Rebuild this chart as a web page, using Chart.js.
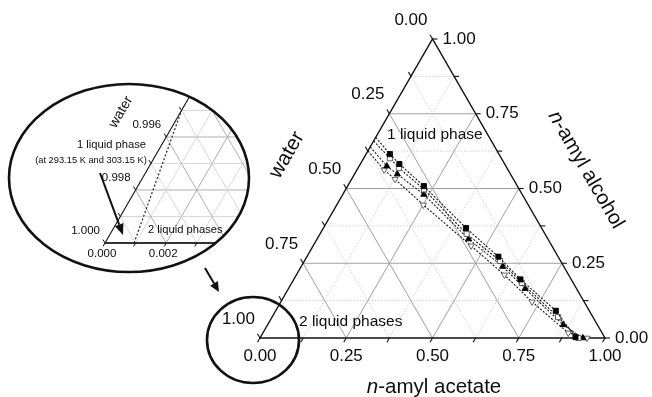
<!DOCTYPE html>
<html><head><meta charset="utf-8">
<script src="https://cdn.jsdelivr.net/npm/chart.js@4"></script>
<style>
html,body{margin:0;padding:0;background:#fff;}
#wrap{position:relative;width:652px;height:397px;overflow:hidden;}
canvas{position:absolute;left:0;top:0;}
</style></head><body>
<div id="wrap"><canvas id="main" width="652" height="397"></canvas><canvas id="inset" width="652" height="397"></canvas></div>
<script>
const FONT = '"Liberation Sans", Arial, Helvetica, sans-serif';
const SQ3 = Math.sqrt(3);

// ---- main ternary axes ----
const axisTickValues = [0, 0.25, 0.5, 0.75, 1];
const axisTickLabels = ['0.00', '0.25', '0.50', '0.75', '1.00'];
const gridValues = [0.125, 0.25, 0.375, 0.5, 0.625, 0.75, 0.875];
const majorGridValues = [0.25, 0.5, 0.75];
const tickMarkValues = [0, 0.125, 0.25, 0.375, 0.5, 0.625, 0.75, 0.875, 1];

// ---- series: fraction of n-amyl acetate and n-amyl alcohol (water = 1 - both) ----
const sqFilledAcetate  = [0.000, 0.069, 0.113, 0.221, 0.413, 0.555, 0.657, 0.812, 0.913];
const sqFilledAlcohol  = [0.671, 0.615, 0.582, 0.508, 0.368, 0.272, 0.196, 0.091, 0.003];
const sqOpenAcetate    = [0.000, 0.076, 0.118, 0.227, 0.425, 0.567, 0.667, 0.829, 0.923];
const sqOpenAlcohol    = [0.659, 0.601, 0.569, 0.497, 0.348, 0.258, 0.184, 0.070, 0.000];
const triFilledAcetate = [0.000, 0.080, 0.124, 0.235, 0.439, 0.584, 0.686, 0.857, 0.936];
const triFilledAlcohol = [0.639, 0.575, 0.548, 0.480, 0.331, 0.239, 0.165, 0.044, 0.000];
const triOpenAcetate   = [0.000, 0.079, 0.126, 0.251, 0.458, 0.603, 0.728, 0.885, 0.948];
const triOpenAlcohol   = [0.626, 0.562, 0.531, 0.445, 0.308, 0.211, 0.121, 0.017, 0.000];

// ---- inset (zoom near the water corner) ----
const insetTickValues = [0.000, 0.001, 0.002, 0.003, 0.004, 0.005, 0.006];
const insetGridValues = [0.001, 0.002, 0.003, 0.004, 0.005, 0.006, 0.007, 0.008, 0.009, 0.010];
const insetBottomLabelValues = [0.000, 0.002];
const insetBottomLabels = ['0.000', '0.002'];
const insetWaterLabelValues = [1.000, 0.998, 0.996];
const insetWaterLabels = ['1.000', '0.998', '0.996'];
const insetBoundaryAcetate = [0.00095, 0.0000];
const insetBoundaryAlcohol = [0.0000, 0.0050];

function toXY(a, b) { return { x: a + b / 2, y: b * SQ3 / 2 }; }
function series(aArr, bArr) { return aArr.map((a, i) => toXY(a, bArr[i])); }
function P(chart, a, b) {
  const q = toXY(a, b);
  return [chart.scales.x.getPixelForValue(q.x), chart.scales.y.getPixelForValue(q.y)];
}
function seg(ctx, p, q) { ctx.beginPath(); ctx.moveTo(p[0], p[1]); ctx.lineTo(q[0], q[1]); ctx.stroke(); }
function tick(ctx, p, dx, dy, len) { seg(ctx, p, [p[0] + dx * len, p[1] + dy * len]); }
function text(ctx, s, x, y, size, align, base) {
  ctx.font = size + 'px ' + FONT; ctx.textAlign = align; ctx.textBaseline = base; ctx.fillText(s, x, y);
}
function mixed(ctx, parts, cx, cy, angle, size, base) {
  ctx.save(); ctx.translate(cx, cy); ctx.rotate(angle);
  let total = 0;
  parts.forEach(p => { ctx.font = (p.it ? 'italic ' : '') + size + 'px ' + FONT; total += ctx.measureText(p.t).width; });
  let x = -total / 2;
  ctx.textAlign = 'left'; ctx.textBaseline = base || 'middle';
  parts.forEach(p => { ctx.font = (p.it ? 'italic ' : '') + size + 'px ' + FONT; ctx.fillText(p.t, x, 0); x += ctx.measureText(p.t).width; });
  ctx.restore();
}
function arrow(ctx, x1, y1, x2, y2, hl, hw, lw) {
  const ang = Math.atan2(y2 - y1, x2 - x1);
  const bx = x2 - Math.cos(ang) * hl, by = y2 - Math.sin(ang) * hl;
  ctx.save(); ctx.strokeStyle = '#111'; ctx.fillStyle = '#111'; ctx.lineWidth = lw; ctx.setLineDash([]);
  ctx.beginPath(); ctx.moveTo(x1, y1); ctx.lineTo(bx, by); ctx.stroke();
  ctx.beginPath(); ctx.moveTo(x2, y2);
  ctx.lineTo(bx + Math.sin(ang) * hw / 2, by - Math.cos(ang) * hw / 2);
  ctx.lineTo(bx - Math.sin(ang) * hw / 2, by + Math.cos(ang) * hw / 2);
  ctx.closePath(); ctx.fill(); ctx.restore();
}
function ellipse(ctx, cx, cy, rx, ry, lw) {
  ctx.save(); ctx.strokeStyle = '#111'; ctx.lineWidth = lw; ctx.setLineDash([]);
  ctx.beginPath(); ctx.ellipse(cx, cy, rx, ry, 0, 0, Math.PI * 2); ctx.stroke(); ctx.restore();
}

const mainPlugin = {
  id: 'ternaryMain',
  beforeDatasetsDraw(chart) {
    const ctx = chart.ctx; ctx.save(); ctx.lineWidth = 1;
    gridValues.forEach(v => {
      const major = majorGridValues.includes(v);
      ctx.strokeStyle = major ? '#a0a0a0' : '#d0d0d0';
      ctx.setLineDash(major ? [] : [1.5, 1.5]);
      seg(ctx, P(chart, v, 0), P(chart, v, 1 - v));
      seg(ctx, P(chart, 0, v), P(chart, 1 - v, v));
      seg(ctx, P(chart, 1 - v, 0), P(chart, 0, 1 - v));
    });
    ctx.setLineDash([]);
    ctx.strokeStyle = '#111'; ctx.lineWidth = 1.4;
    const A = P(chart, 0, 0), B = P(chart, 1, 0), C = P(chart, 0, 1);
    ctx.beginPath(); ctx.moveTo(A[0], A[1]); ctx.lineTo(B[0], B[1]); ctx.lineTo(C[0], C[1]); ctx.closePath(); ctx.stroke();
    ctx.lineWidth = 1.1;
    tickMarkValues.forEach(v => {
      tick(ctx, P(chart, 0, 1 - v), -0.5, -SQ3 / 2, 5);
      tick(ctx, P(chart, 1 - v, v), 1, 0, 5);
      tick(ctx, P(chart, v, 0), -0.5, SQ3 / 2, 5);
    });
    ctx.restore();
  },
  afterDatasetsDraw(chart) {
    const ctx = chart.ctx; ctx.save(); ctx.fillStyle = '#0d0d0d';
    axisTickValues.forEach((v, i) => {
      const pb = P(chart, v, 0);
      text(ctx, axisTickLabels[i], pb[0], pb[1] + 18, 17, 'center', 'middle');
      const pr = P(chart, 1 - v, v);
      text(ctx, axisTickLabels[i], pr[0] + 10, pr[1], 17, 'left', 'middle');
      const pl = P(chart, 0, 1 - v);
      text(ctx, axisTickLabels[i], pl[0] - 5, pl[1] - 19, 17, 'right', 'middle');
    });
    mixed(ctx, [{ t: 'n', it: true }, { t: '-amyl acetate' }], 434, 393, 0, 20.5, 'alphabetic');
    mixed(ctx, [{ t: 'water' }], 287, 155, -Math.PI / 3, 20.5);
    mixed(ctx, [{ t: 'n', it: true }, { t: '-amyl alcohol' }], 586, 170, Math.PI / 3, 20.5);
    text(ctx, '1 liquid phase', 387, 135, 15.5, 'left', 'middle');
    text(ctx, '2 liquid phases', 299, 322, 15.5, 'left', 'middle');
    ellipse(ctx, 253, 340, 46, 43, 2.6);
    arrow(ctx, 205, 268, 219, 292, 10, 9, 2);
    ctx.restore();
  }
};

const mk = (aArr, bArr, style, fill, border, rot) => ({
  data: series(aArr, bArr), showLine: true, tension: 0, clip: false,
  borderColor: '#1a1a1a', borderWidth: 1.1, borderDash: [2, 1.6],
  pointStyle: style, pointRotation: rot || 0,
  pointBackgroundColor: fill, pointBorderColor: border, pointBorderWidth: 0.9,
  pointRadius: c => c.dataIndex === 0 ? 0 : 3.6
});

new Chart(document.getElementById('main'), {
  type: 'scatter',
  data: { datasets: [
    mk(sqFilledAcetate, sqFilledAlcohol, 'rect', '#000', '#000'),
    mk(sqOpenAcetate, sqOpenAlcohol, 'rect', '#fff', '#555'),
    mk(triFilledAcetate, triFilledAlcohol, 'triangle', '#000', '#000'),
    mk(triOpenAcetate, triOpenAlcohol, 'triangle', '#fff', '#555', 180)
  ] },
  options: {
    responsive: false, animation: false, events: [],
    devicePixelRatio: 1,
    layout: { padding: { left: 260, right: 47, top: 39, bottom: 59 } },
    plugins: { legend: { display: false }, tooltip: { enabled: false } },
    scales: {
      x: { type: 'linear', min: 0, max: 1, display: false },
      y: { type: 'linear', min: 0, max: SQ3 / 2, display: false }
    }
  },
  plugins: [mainPlugin]
});

// inset
const INSET_X_MAX = 0.005;
const INSET_Y_MAX = INSET_X_MAX * 163 / 153;
const E = { cx: 129, cy: 178, rx: 120, ry: 94 };
const insetPlugin = {
  id: 'ternaryInset',
  beforeDatasetsDraw(chart) {
    const ctx = chart.ctx; ctx.save();
    ctx.beginPath(); ctx.ellipse(E.cx, E.cy, E.rx, E.ry, 0, 0, Math.PI * 2); ctx.clip();
    ctx.lineWidth = 1;
    const BIG = 0.02;
    insetGridValues.forEach(v => {
      const major = Math.round(v * 1000) % 2 === 0;
      ctx.strokeStyle = major ? '#b0b0b0' : '#d8d8d8';
      seg(ctx, P(chart, v, 0), P(chart, v, BIG));
      seg(ctx, P(chart, 0, v), P(chart, BIG, v));
      seg(ctx, P(chart, v, 0), P(chart, 0, v));
    });
    ctx.strokeStyle = '#111'; ctx.lineWidth = 1.1;
    seg(ctx, P(chart, 0, 0), P(chart, 0, BIG));
    ctx.strokeStyle = '#333'; ctx.lineWidth = 1.9;
    seg(ctx, P(chart, 0, 0), P(chart, BIG, 0));
    ctx.strokeStyle = '#111'; ctx.lineWidth = 1;
    insetTickValues.forEach(v => {
      tick(ctx, P(chart, v, 0), -0.5, SQ3 / 2, 4);
      tick(ctx, P(chart, 0, v), -0.5, -SQ3 / 2, 4);
    });
    ctx.restore();
  },
  afterDatasetsDraw(chart) {
    const ctx = chart.ctx; ctx.save(); ctx.fillStyle = '#0d0d0d';
    ellipse(ctx, E.cx, E.cy, E.rx, E.ry, 2.6);
    insetBottomLabelValues.forEach((v, i) => {
      const p = P(chart, v, 0);
      text(ctx, insetBottomLabels[i], p[0] - 3, p[1] + 11, 11.5, 'center', 'middle');
    });
    insetWaterLabelValues.forEach((w, i) => {
      const p = P(chart, 0, 1 - w);
      text(ctx, insetWaterLabels[i], p[0] - 5, p[1] - 12.5, 11.5, 'right', 'middle');
    });
    mixed(ctx, [{ t: 'water' }], 121, 112, -Math.PI / 3, 14);
    text(ctx, '1 liquid phase', 111.5, 145, 11.2, 'center', 'middle');
    text(ctx, '(at 293.15 K and 303.15 K)', 91, 160, 9.3, 'center', 'middle');
    text(ctx, '2 liquid phases', 148, 230, 11.2, 'left', 'middle');
    arrow(ctx, 100, 173, 123, 235, 11, 9, 2);
    ctx.restore();
  }
};

new Chart(document.getElementById('inset'), {
  type: 'scatter',
  data: { datasets: [{
    data: series(insetBoundaryAcetate, insetBoundaryAlcohol), showLine: true, clip: false,
    borderColor: '#222', borderWidth: 1.2, borderDash: [2, 2], pointRadius: 0
  }] },
  options: {
    responsive: false, animation: false, events: [], devicePixelRatio: 1,
    layout: { padding: { left: 105, right: 394, top: 80, bottom: 154 } },
    plugins: { legend: { display: false }, tooltip: { enabled: false } },
    scales: {
      x: { type: 'linear', min: 0, max: INSET_X_MAX, display: false },
      y: { type: 'linear', min: 0, max: INSET_Y_MAX, display: false }
    }
  },
  plugins: [insetPlugin]
});
</script>
</body></html>
